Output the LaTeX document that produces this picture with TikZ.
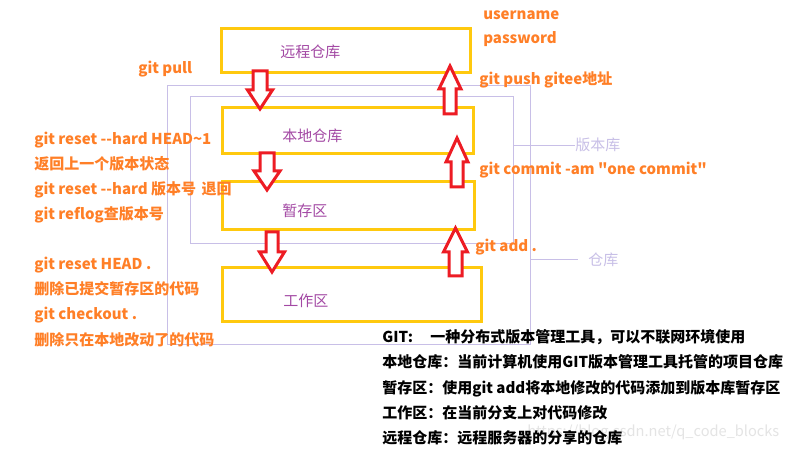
\documentclass[tikz,border=0pt]{standalone}
\usepackage{fontspec}
\setmainfont{Noto Sans CJK SC}
\newfontfamily\nomap{Noto Sans CJK SC}[Ligatures=TeXOff]
\definecolor{gyellow}{HTML}{FFC90E}
\definecolor{gorange}{HTML}{FF7F27}
\definecolor{gred}{HTML}{ED1C24}
\definecolor{gpurple}{HTML}{A349A4}
\definecolor{glav}{HTML}{C8BFE7}
\definecolor{gwm}{HTML}{E4E4E4}
\newcommand\fs{\fontsize{11.25}{13}\selectfont}
% block arrow: center x, shaft half, head half, tail y, head base y, tip y
\newcommand\barrow[6]{%
  \draw[blk] ({#1-#2},#4) -- ({#1-#2},#5) -- ({#1-#3},#5) -- (#1,#6)
    -- ({#1+#3},#5) -- ({#1+#2},#5) -- ({#1+#2},#4) -- cycle;}
\tikzset{
  repo/.style={draw=gyellow, line width=2.25pt, inner sep=0pt},
  frame/.style={draw=glav, line width=0.75pt},
  blk/.style={draw=gred, line width=2.25pt, fill=white, line join=miter},
  cmd/.style={anchor=base west, inner sep=0pt, text=gorange, font=\fs\bfseries},
  lbl/.style={anchor=base west, inner sep=0pt, text=gpurple, font=\fs},
  note/.style={anchor=base west, inner sep=0pt, text=black, font=\fs\bfseries},
  flbl/.style={anchor=base west, inner sep=0pt, text=glav, font=\fs},
}
\begin{document}
\begin{tikzpicture}[x=0.75pt,y=-0.75pt]
\useasboundingbox[fill=white] (0,0) rectangle (789,452);

% watermark (behind)
\node[anchor=base west, inner sep=0pt, text=gwm] (wm) at (527,436) {\resizebox{189pt}{!}{\fontsize{12}{14}\selectfont https://blog.csdn.net/q\_code\_blocks}};

% frames
\draw[frame] (167,86) rectangle (530,345);
\draw[frame] (190,97) rectangle (513,244);
\coordinate (vbk) at (513,146);
\coordinate (vbkend) at (575,146);
\coordinate (ck) at (531,260);
\coordinate (ckend) at (578,260);
\draw[frame] (vbk) -- (vbkend);
\draw[frame] (ck) -- (ckend);
\node[flbl] (tvbk) at (575,151) {版本库};
\node[flbl] (tck) at (588,266) {仓库};

% boxes
\node[repo, minimum width=186.75pt, minimum height=33pt] (remote) at (345.5,51) {};
\node[repo, minimum width=188.25pt, minimum height=34.5pt] (local) at (347.5,131) {};
\node[repo, minimum width=189pt, minimum height=36pt] (stage) at (348,206) {};
\node[repo, minimum width=194.25pt, minimum height=40.5pt] (work) at (351.5,295) {};

\node[lbl] (tremote) at (280,58) {远程仓库};
\node[lbl] (tlocal) at (282,142) {本地仓库};
\node[lbl] (tstage) at (282,217) {暂存区};
\node[lbl] (twork) at (283,307) {工作区};

% arrows
\barrow{260}{7}{12.5}{71}{90}{109}
\barrow{267}{7}{13}{153}{171}{190}
\barrow{272}{6}{12.5}{232}{252}{272}
\barrow{450}{6}{11}{114}{89}{66}
\barrow{457}{6}{11}{187}{162}{138}
\barrow{455.5}{6.5}{12}{276}{252}{228}

% orange commands
\node[cmd] (c1) at (483,20) {username};
\node[cmd] (c2) at (483,44) {password};
\node[cmd] (c3) at (138,74) {git pull};
\node[cmd] (c4) at (479,85) {git push gitee地址};
\node[cmd] (c5) at (34,145) {git reset {-}{-}hard HEAD\textasciitilde 1};
\node[cmd] (c6) at (34,170) {返回上一个版本状态};
\node[cmd] (c7) at (34,195) {git reset {-}{-}hard 版本号\hspace{4pt}退回};
\node[cmd] (c8) at (34,220) {git reflog查版本号};
\node[cmd] (c9) at (479,175) {\nomap git commit -am "one commit"};
\node[cmd] (c10) at (475,252) {git add .};
\node[cmd] (c11) at (34,270) {git reset HEAD .};
\node[cmd] (c12) at (34,295) {删除已提交暂存区的代码};
\node[cmd] (c13) at (34,320) {git checkout .};
\node[cmd] (c14) at (34,345) {删除只在本地改动了的代码};

% notes
\node[note] (n1) at (382,343) {\makebox[36pt][l]{GIT:}一种分布式版本管理工具，可以不联网环境使用};
\node[note] (n2) at (382,368) {本地仓库：当前计算机使用GIT版本管理工具托管的项目仓库};
\node[note] (n3) at (382,393) {暂存区：使用git add将本地修改的代码添加到版本库暂存区};
\node[note] (n4) at (382,418) {工作区：在当前分支上对代码修改};
\node[note] (n5) at (382,443) {远程仓库：远程服务器的分享的仓库};
\end{tikzpicture}
\end{document}
